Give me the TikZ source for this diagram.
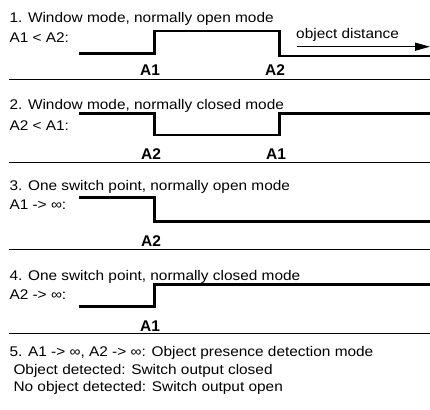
\documentclass[tikz,border=0pt]{standalone}
\usepackage{fontspec}
\setmainfont[FakeStretch=1.1]{Liberation Sans}
\newfontfamily\lblfont{Liberation Sans}
\usetikzlibrary{arrows.meta}
\begin{document}
\begin{tikzpicture}[x=1pt,y=-1pt,
  txt/.style={anchor=base west,inner sep=0pt,font=\fontsize{14}{16}\selectfont},
  lbl/.style={anchor=base,inner sep=0pt,font=\lblfont\bfseries\fontsize{15.5}{17}\selectfont},
  wave/.style={line width=2.8pt,line join=miter},
  sep/.style={line width=1.2pt},
  arr/.style={line width=1.4pt,-{Triangle[length=15pt,width=8pt]}}]
\useasboundingbox (0,0) rectangle (430,409);
% Section 1
\node[txt] (t1) at (9.3,22.7) {1. Window mode, normally open mode};
\node[txt] (s1) at (9.3,42.7) {A1 < A2:};
\draw[wave] (79,53.3) -- (154.3,53.3) -- (154.3,31) -- (279.3,31) -- (279.3,56) -- (430,56);
\node[txt] (od) at (296,38.3) {object distance};
\coordinate (ods) at (296.7,46.7);
\coordinate (ode) at (430,46.7);
\draw[arr] (ods) -- (ode);
\node[lbl] (l1a) at (150,76) {A1};
\node[lbl] (l1b) at (275,76) {A2};
\draw[sep] (9.3,79.3) -- (430,79.3);
% Section 2
\node[txt] (t2) at (9.3,110) {2. Window mode, normally closed mode};
\node[txt] (s2) at (9.3,130) {A2 < A1:};
\draw[wave] (79,113.3) -- (154.3,113.3) -- (154.3,135) -- (279.3,135) -- (279.3,113.3) -- (430,113.3);
\node[lbl] (l2a) at (151,159.3) {A2};
\node[lbl] (l2b) at (276,159.3) {A1};
\draw[sep] (9.3,162.3) -- (430,162.3);
% Section 3
\node[txt] (t3) at (9.3,190) {3. One switch point, normally open mode};
\node[txt] (s3) at (9.3,209.3) {A1 -> ∞:};
\draw[wave] (79,197.7) -- (154.3,197.7) -- (154.3,221.7) -- (430,221.7);
\node[lbl] (l3a) at (151,246.7) {A2};
\draw[sep] (9.3,249.3) -- (430,249.3);
% Section 4
\node[txt] (t4) at (9.3,280) {4. One switch point, normally closed mode};
\node[txt] (s4) at (9.3,299.3) {A2 -> ∞:};
\draw[wave] (79,306.5) -- (154.3,306.5) -- (154.3,284.3) -- (430,284.3);
\node[lbl] (l4a) at (150,331.7) {A1};
\draw[sep] (9.3,333.3) -- (430,333.3);
% Section 5
\node[txt] (t5) at (9.3,356) {5. A1 -> ∞, A2 -> ∞: Object presence detection mode};
\node[txt] (t5b) at (13.3,374) {Object detected: Switch output closed};
\node[txt] (t5c) at (13.3,391.7) {No object detected: Switch output open};
\end{tikzpicture}
\end{document}
